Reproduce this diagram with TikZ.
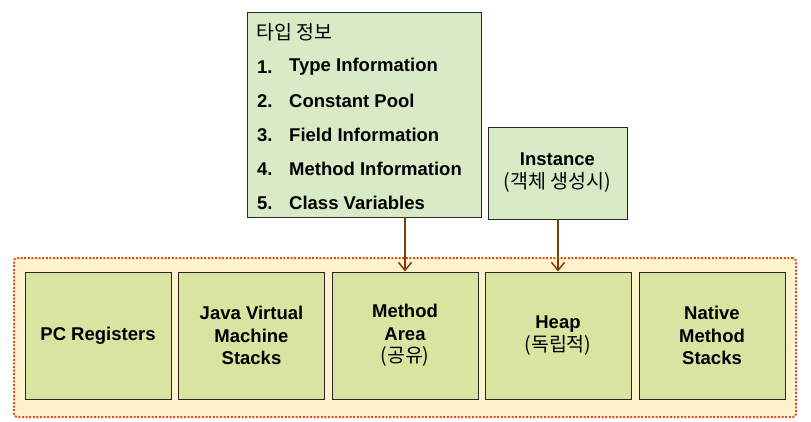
\documentclass[tikz,border=0pt]{standalone}
\usepackage{fontspec}
\setmainfont{Liberation Sans}
\newfontfamily\kr{Noto Sans CJK KR}
\usetikzlibrary{arrows.meta}
\definecolor{topfill}{HTML}{D9EBC6}
\definecolor{memfill}{HTML}{D9E4A0}
\definecolor{outfill}{HTML}{FFF2CC}
\definecolor{dotcol}{HTML}{D9531E}
\definecolor{arrcol}{HTML}{7A3E0A}
\tikzset{
  memarea/.style={draw=black!85, line width=0.9pt, fill=memfill, minimum width=146pt, minimum height=127pt, align=center, inner sep=0pt, font=\fontsize{18.5}{22.5}\selectfont\bfseries},
  infobox/.style={draw=black!85, line width=0.9pt, fill=topfill, inner sep=0pt},
  itemtxt/.style={anchor=west, inner sep=0pt, font=\fontsize{18.5}{22}\selectfont\bfseries},
  conn/.style={draw=arrcol, line width=1.6pt, -{Straight Barb[length=8pt,width=13pt,line width=1.5pt]}},
}
\begin{document}
\begin{tikzpicture}[x=1pt,y=-1pt]
\useasboundingbox (0,0) rectangle (811,421);
% outer runtime area
\node[draw=dotcol, fill=outfill, line width=2pt, dash pattern=on 2pt off 1.6pt, rounded corners=3pt, minimum width=782pt, minimum height=159pt, inner sep=0pt] (outer) at (405,337.5) {};
% memory areas
\node[memarea] (pc) at (98,335.5) {PC Registers};
\node[memarea] (jvms) at (251.5,335.5) {Java Virtual\\Machine\\Stacks};
\node[memarea] (meth) at (405,335.5) {Method\\Area\\{\kr\mdseries\fontsize{19.5}{22.5}\selectfont (공유)}};
\node[memarea] (heap) at (558,335.5) {Heap\\{\kr\mdseries\fontsize{19.5}{22.5}\selectfont (독립적)}};
\node[memarea] (native) at (712,335.5) {Native\\Method\\Stacks};
% type info box
\node[infobox, minimum width=234pt, minimum height=205pt] (typeinfo) at (364,114.5) {};
\node[anchor=west, inner sep=0pt, font=\kr\fontsize{19.5}{22}\selectfont] (ttitle) at (256,32) {타입 정보};
\node[itemtxt] (n1) at (257,67) {1.};
\node[itemtxt] (t1) at (289,67) {Type Information};
\node[itemtxt] (n2) at (257,101) {2.};
\node[itemtxt] (t2) at (289,101) {Constant Pool};
\node[itemtxt] (n3) at (257,135) {3.};
\node[itemtxt] (t3) at (289,135) {Field Information};
\node[itemtxt] (n4) at (257,169) {4.};
\node[itemtxt] (t4) at (289,169) {Method Information};
\node[itemtxt] (n5) at (257,203) {5.};
\node[itemtxt] (t5) at (289,203) {Class Variables};
% instance box
\node[infobox, minimum width=139pt, minimum height=92pt, align=center, font=\fontsize{18.5}{23}\selectfont\bfseries] (inst) at (557.5,173) {Instance\\{\kr\mdseries\fontsize{19.5}{23}\selectfont (객체 생성시)}};
% connectors
\draw[conn] (typeinfo.south -| meth.north) -- (meth.north);
\draw[conn] (inst.south -| heap.north) -- (heap.north);
\end{tikzpicture}
\end{document}
